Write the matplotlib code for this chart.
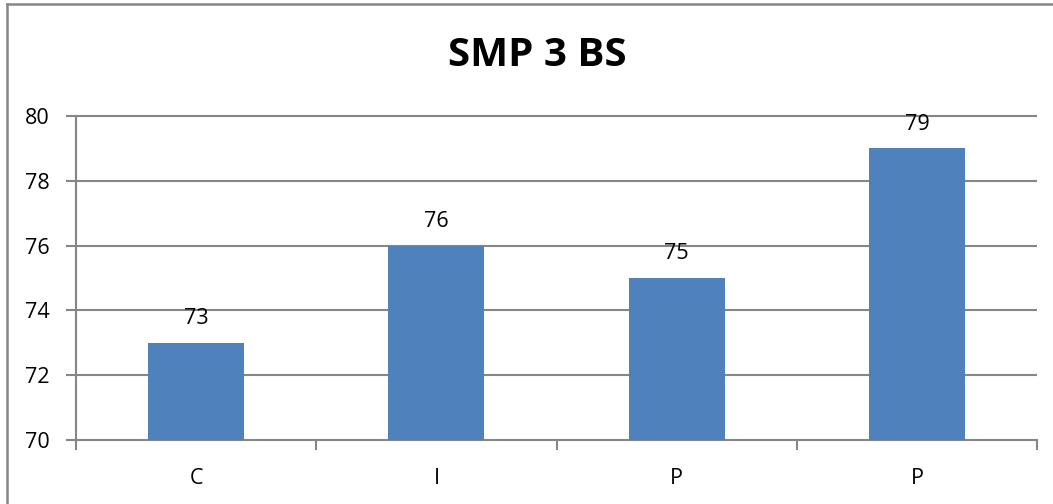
import matplotlib
matplotlib.use("Agg")
import matplotlib.pyplot as plt
from matplotlib.lines import Line2D

# Chart data
categories = ['C', 'I', 'P', 'P']
values = [73, 76, 75, 79]
yticks = [70, 72, 74, 76, 78, 80]

bar_color = '#4F81BD'
grid_color = '#868686'

plt.rcParams['font.family'] = ['Open Sans', 'DejaVu Sans']

fig = plt.figure(figsize=(10.53, 5.04), dpi=100)
ax = fig.add_axes([76 / 1053, 1 - 440 / 504, (1037 - 76) / 1053, (440 - 116) / 504])

x = list(range(len(categories)))
ax.bar(x, values, width=0.4, color=bar_color, zorder=3)

for xi, v in zip(x, values):
    ax.annotate(str(v), (xi, v), xytext=(0, 10), textcoords='offset points',
                ha='center', va='bottom', fontsize=15.5, zorder=4)

ax.set_ylim(70, 80)
ax.set_xlim(-0.5, len(categories) - 0.5)
ax.set_yticks(yticks)
# horizontal gridlines, not clipped so the top one keeps full width
ax.hlines(yticks[1:], -0.5, len(categories) - 0.5, color=grid_color, lw=1.5,
          zorder=1, clip_on=False)
ax.set_xticks(x)
ax.set_xticklabels(categories)
ax.set_xticks([i + 0.5 for i in range(-1, len(categories))], minor=True)

ax.tick_params(axis='x', which='major', length=0, pad=20, labelsize=15.5)
ax.tick_params(axis='x', which='minor', length=7, width=1.5, color=grid_color)
ax.tick_params(axis='y', length=7, width=1.5, color=grid_color, labelsize=15.5, pad=12)

for side in ['top', 'right']:
    ax.spines[side].set_visible(False)
for side in ['left', 'bottom']:
    ax.spines[side].set_color(grid_color)
    ax.spines[side].set_linewidth(1.5)

fig.text(537 / 1053, 1 - 56 / 504, 'SMP 3 BS', ha='center', va='center',
         fontsize=29, fontweight='bold')

# outer chart frame (top and left edges visible)
fig.add_artist(Line2D([7 / 1053, 7 / 1053], [0, 1 - 4 / 504], color=grid_color, lw=1.8,
                      transform=fig.transFigure))
fig.add_artist(Line2D([7 / 1053, 1], [1 - 4 / 504, 1 - 4 / 504], color=grid_color, lw=1.8,
                      transform=fig.transFigure))

fig.savefig('out.png', dpi=100)
